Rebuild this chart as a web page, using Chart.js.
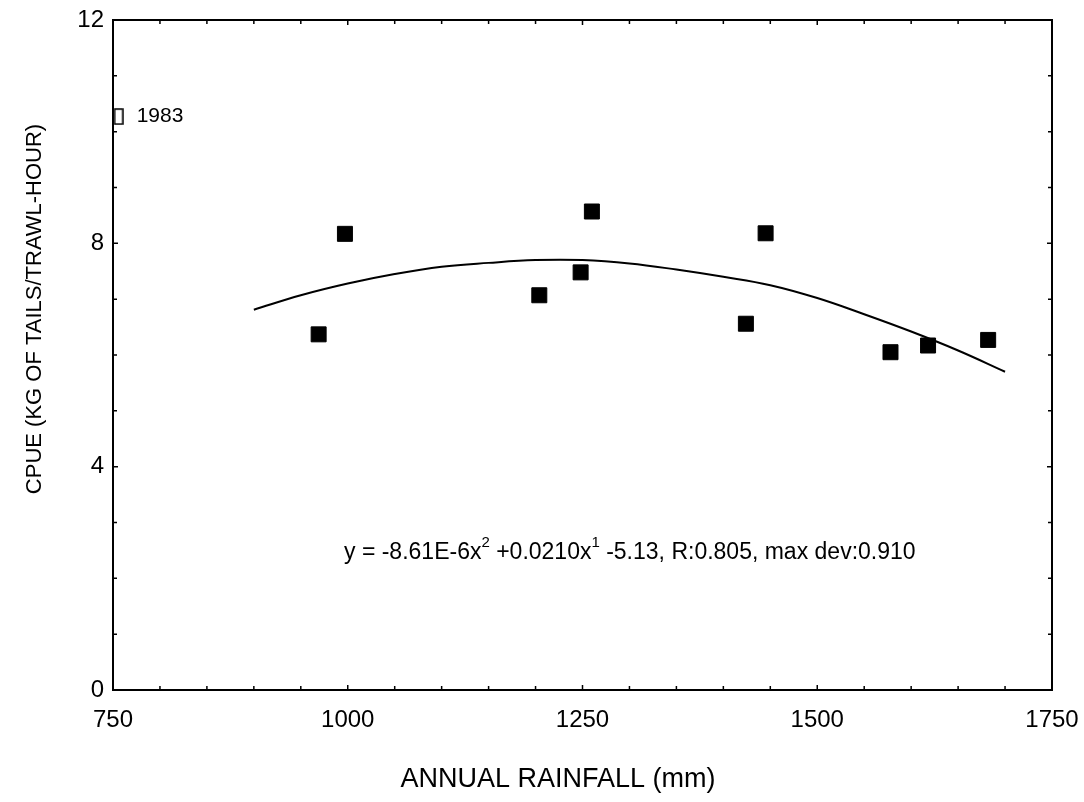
<!DOCTYPE html>
<html>
<head>
<meta charset="utf-8">
<script src="https://cdn.jsdelivr.net/npm/chart.js@4"></script>
<style>
  html, body { margin: 0; padding: 0; background: #fff; }
  #wrap { width: 1084px; height: 802px; }
</style>
</head>
<body>
<div id="wrap"><canvas id="rain_chart" width="1084" height="802"></canvas></div>
<script>
// observed years: annual rainfall (mm) and CPUE (kg of tails / trawl-hour)
const rainfall = [969, 997, 1204, 1248, 1260, 1424, 1445, 1578, 1618, 1682];
const cpue = [6.37, 8.17, 7.07, 7.48, 8.57, 6.56, 8.18, 6.05, 6.17, 6.27];

// 1983 left out of the fit
const outlier_x = [756];
const outlier_y = [10.27];
const outlier_label = '1983';

// fitted curve
const fit_x = [900, 950, 1000, 1050, 1100, 1150, 1200, 1250, 1300, 1350, 1400, 1450, 1500, 1550, 1600, 1650, 1700];
const fit_y = [6.81, 7.07, 7.28, 7.45, 7.58, 7.65, 7.70, 7.70, 7.64, 7.53, 7.40, 7.25, 7.02, 6.73, 6.42, 6.08, 5.70];

const x_ticks = [750, 1000, 1250, 1500, 1750];
const y_ticks = [0, 4, 8, 12];

const x_title = 'ANNUAL RAINFALL (mm)';
const y_title = 'CPUE (KG OF TAILS/TRAWL-HOUR)';
const fit_text = ['y = -8.61E-6x', '2', ' +0.0210x', '1', ' -5.13, R:0.805, max dev:0.910'];

const FONT = '"Liberation Sans", Arial, sans-serif';

function toPoints(xs, ys) {
  return xs.map((x, i) => ({ x: x, y: ys[i] }));
}

// tall open box used for the 1983 point
const openBox = document.createElement('canvas');
openBox.width = 10;
openBox.height = 17;
(function () {
  const c = openBox.getContext('2d');
  c.strokeStyle = '#000';
  c.lineWidth = 1.5;
  c.strokeRect(1, 1, 8, 15);
})();

// frame, inward ticks on all four sides, axis titles, labels
const framePlugin = {
  id: 'frame',
  afterDraw(chart) {
    const ctx = chart.ctx;
    const xs = chart.scales.x;
    const ys = chart.scales.y;
    const a = chart.chartArea;
    ctx.save();
    ctx.strokeStyle = '#000';
    ctx.lineWidth = 2;
    ctx.strokeRect(a.left, a.top, a.right - a.left, a.bottom - a.top);

    ctx.lineWidth = 1.5;
    ctx.beginPath();
    for (let v = 750; v <= 1750; v += 50) {
      const px = xs.getPixelForValue(v);
      const len = v % 250 === 0 ? 5 : 4;
      ctx.moveTo(px, a.bottom); ctx.lineTo(px, a.bottom - len);
      ctx.moveTo(px, a.top); ctx.lineTo(px, a.top + len);
    }
    for (let v = 0; v <= 12; v += 1) {
      const py = ys.getPixelForValue(v);
      const len = v % 4 === 0 ? 5 : 4;
      ctx.moveTo(a.left, py); ctx.lineTo(a.left + len, py);
      ctx.moveTo(a.right, py); ctx.lineTo(a.right - len, py);
    }
    ctx.stroke();

    ctx.fillStyle = '#000';
    // x title
    ctx.font = '27px ' + FONT;
    ctx.textAlign = 'center';
    ctx.textBaseline = 'middle';
    ctx.fillText(x_title, 558, 780);
    // y title
    ctx.save();
    ctx.translate(35, 309);
    ctx.rotate(-Math.PI / 2);
    ctx.font = '22px ' + FONT;
    ctx.fillText(y_title, 0, 0);
    ctx.restore();

    // 1983 label
    ctx.font = '21px ' + FONT;
    ctx.textAlign = 'left';
    ctx.fillText(outlier_label, xs.getPixelForValue(outlier_x[0]) + 18, ys.getPixelForValue(outlier_y[0]));

    // fit equation with superscripts
    const big = '23px ' + FONT;
    const small = '15px ' + FONT;
    let x = 344;
    const base = 559;
    ctx.textBaseline = 'alphabetic';
    fit_text.forEach((t, i) => {
      const sup = i % 2 === 1;
      ctx.font = sup ? small : big;
      ctx.fillText(t, x, sup ? base - 12 : base);
      x += ctx.measureText(t).width;
    });
    ctx.restore();
  }
};

const ctx = document.getElementById('rain_chart').getContext('2d');
const rain_chart = new Chart(ctx, {
  type: 'scatter',
  data: {
    datasets: [
      {
        label: 'Fit',
        type: 'line',
        data: toPoints(fit_x, fit_y),
        borderColor: '#000',
        borderWidth: 2,
        pointRadius: 0,
        tension: 0.4,
        fill: false
      },
      {
        label: 'CPUE',
        data: toPoints(rainfall, cpue),
        pointStyle: 'rect',
        pointRadius: 10.6,
        backgroundColor: '#000',
        borderColor: '#000',
        borderWidth: 1
      },
      {
        label: '1983',
        data: toPoints(outlier_x, outlier_y),
        pointStyle: openBox,
        pointRadius: 8
      }
    ]
  },
  options: {
    responsive: false,
    animation: false,
    events: [],
    layout: { padding: { left: 0, right: 32, top: 20, bottom: 0 } },
    plugins: {
      legend: { display: false },
      tooltip: { enabled: false }
    },
    scales: {
      x: {
        type: 'linear',
        min: 750,
        max: 1750,
        afterFit: (s) => { s.height = 112; s.paddingLeft = 0; s.paddingRight = 0; },
        afterBuildTicks: (s) => { s.ticks = x_ticks.map(v => ({ value: v })); },
        grid: { display: false, drawTicks: false },
        border: { display: false },
        ticks: {
          color: '#000',
          padding: 16,
          maxRotation: 0,
          callback: (v) => String(v),
          font: { family: FONT, size: 24 }
        }
      },
      y: {
        type: 'linear',
        min: 0,
        max: 12,
        afterFit: (s) => { s.width = 113; s.paddingTop = 0; s.paddingBottom = 0; },
        afterBuildTicks: (s) => { s.ticks = y_ticks.map(v => ({ value: v })); },
        grid: { display: false, drawTicks: false },
        border: { display: false },
        ticks: {
          color: '#000',
          padding: 9,
          callback: (v) => String(v),
          font: { family: FONT, size: 24 }
        }
      }
    }
  },
  plugins: [framePlugin]
});
</script>
</body>
</html>
